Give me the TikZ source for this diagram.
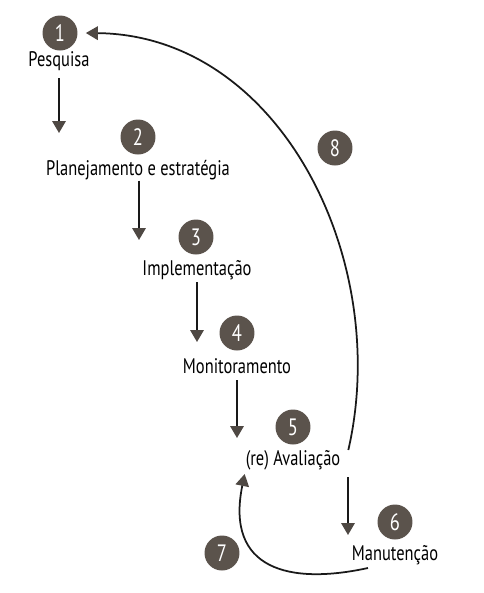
\documentclass[tikz,border=0pt]{standalone}
\usepackage{fontspec}
\setmainfont[FakeStretch=0.78]{PT Sans}
\usetikzlibrary{arrows.meta}
\definecolor{disco}{HTML}{5B534C}
\definecolor{ponta}{HTML}{4E4843}

\begin{document}
\begin{tikzpicture}[x=0.02cm,y=-0.02cm,
	etapa/.style={circle,fill=disco,text=white,minimum size=0.7cm,inner sep=0pt,font=\fontsize{13.5}{13.5}\selectfont},
	rotulo/.style={anchor=base,inner sep=1pt,font=\fontsize{12}{14}\selectfont},
	seta/.style={line width=1pt,draw=black!90,-{Triangle[width=0.27cm,length=0.24cm,color=ponta]}}]
		\useasboundingbox (0,0) rectangle (484,593);

		% Etapas
		\node[etapa] (c1) at (60,33) {1};
		\node[rotulo] (l1) at (59,66) {Pesquisa};
		\node[etapa] (c2) at (138,137) {2};
		\node[rotulo] (l2) at (138,175) {Planejamento e estratégia};
		\node[etapa] (c3) at (196,237) {3};
		\node[rotulo] (l3) at (197,275) {Implementação};
		\node[etapa] (c4) at (237,333) {4};
		\node[rotulo] (l4) at (237,373) {Monitoramento};
		\node[etapa] (c5) at (293,427) {5};
		\node[rotulo] (l5) at (293,465) {(re) Avaliação};
		\node[etapa] (c6) at (395,522) {6};
		\node[rotulo] (l6) at (395,560) {Manutenção};
		\node[etapa] (c7) at (222,553) {7};
		\node[etapa] (c8) at (335,148) {8};

		% Setas
		\coordinate (p2) at (59,133);
		\coordinate (p3) at (139,240);
		\coordinate (p4) at (197,342);
		\coordinate (p5) at (237,438);
		\coordinate (p6) at (348,535);
		\draw[seta] ([yshift=-0.24cm]l1.base) -- (p2);
		\draw[seta] ([yshift=-0.11cm]l2.base -| p3) -- (p3);
		\draw[seta] ([yshift=-0.14cm]l3.base) -- (p4);
		\draw[seta] ([yshift=-0.14cm]l4.base) -- (p5);
		\draw[seta] ([yshift=-0.24cm]l5.base -| p6) -- (p6);

		% Retornos
		\draw[seta] ([shift={(-27,8)}]l6.base) .. controls (290,585) and (225,570) .. ([shift={(1,9)}]l5.base west);
		\draw[seta] ([shift={(6,-15)}]l5.base east) .. controls (392,260) and (280,35) .. ([xshift=0.16cm]c1.east);
	\end{tikzpicture}
\end{document}
